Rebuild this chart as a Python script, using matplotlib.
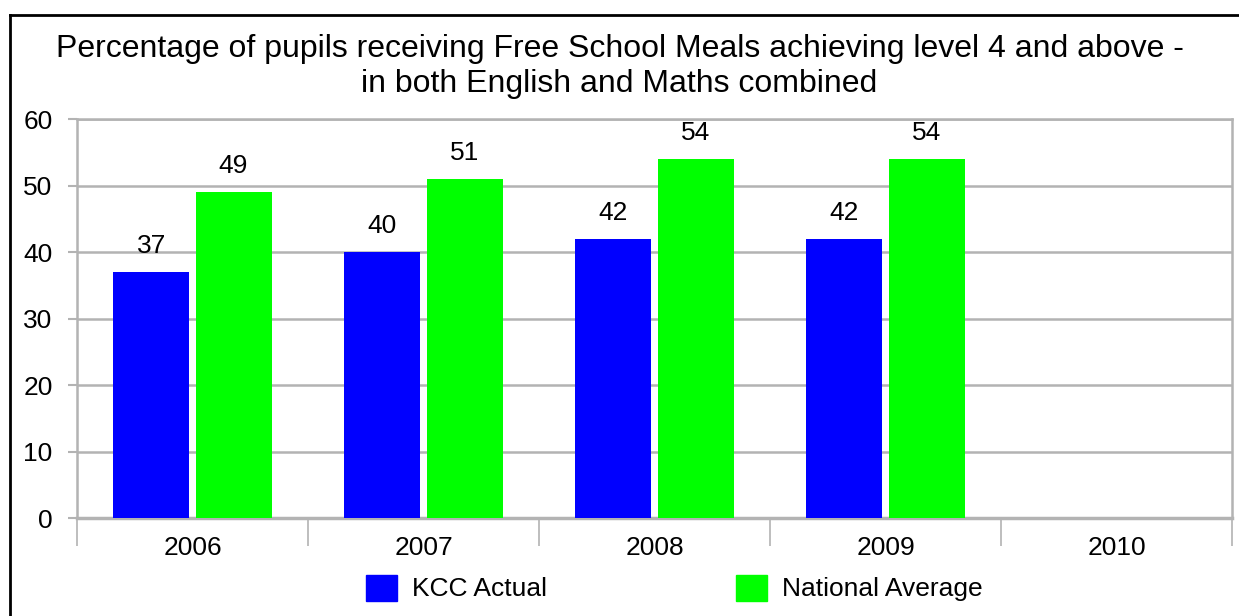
import matplotlib
matplotlib.use("Agg")
import matplotlib.pyplot as plt
import numpy as np
from matplotlib.patches import Patch
from matplotlib.lines import Line2D

categories = ["2006", "2007", "2008", "2009", "2010"]
kcc_actual = [37, 40, 42, 42, None]
national_avg = [49, 51, 54, 54, None]
series_names = ["KCC Actual", "National Average"]
yticks = [0, 10, 20, 30, 40, 50, 60]
title_lines = ["Percentage of pupils receiving Free School Meals achieving level 4 and above -",
               "in both English and Maths combined"]

plt.rcParams['font.family'] = ['Liberation Sans', 'DejaVu Sans']

fig = plt.figure(figsize=(12.39, 6.16), dpi=100)
ax = fig.add_axes([77/1239, 1-518/616, (1232-77)/1239, (518-119)/616])

grid_c = '#b3b3b3'
x = np.arange(len(categories))
w = 0.329
off = 0.1775
colors = ['#0000ff', '#00ff00']
for vals, sign, col in [(kcc_actual, -1, colors[0]), (national_avg, 1, colors[1])]:
    for xi, v in zip(x, vals):
        if v is None:
            continue
        ax.bar(xi + sign*off, v, width=w, color=col, zorder=3)
        ax.annotate(f"{v}", (xi + sign*off, v), xytext=(0, 10), textcoords='offset points',
                    ha='center', va='bottom', fontsize=19, zorder=4)

ax.set_xlim(-0.5, len(categories) - 0.5)
ax.set_ylim(0, 60)
ax.set_yticks(yticks)
ax.set_yticklabels([str(t) for t in yticks], fontsize=19)
ax.yaxis.grid(True, color=grid_c, linewidth=1.8, zorder=1)
ax.set_axisbelow(True)
ax.tick_params(axis='y', length=6.5, color=grid_c, width=1.5, pad=11)

ax.set_xticks(x)
ax.set_xticklabels(categories, fontsize=19)
ax.tick_params(axis='x', which='major', length=0, pad=13)
ax.set_xticks(np.arange(-0.5, len(categories), 1.0), minor=True)
ax.tick_params(axis='x', which='minor', length=20, color=grid_c, width=1.2)

for s in ['left', 'right', 'top']:
    ax.spines[s].set_color(grid_c)
    ax.spines[s].set_linewidth(1.8)
ax.spines['bottom'].set_color(grid_c)
ax.spines['bottom'].set_linewidth(2.5)

for line, base_px in zip(title_lines, [57, 92]):
    fig.text(0.5, 1-base_px/616, line, ha='center', va='baseline', fontsize=23)

handles = [Patch(facecolor=colors[0], edgecolor=colors[0]), Patch(facecolor=colors[1], edgecolor=colors[1])]
fig.legend(handles, series_names, loc='center', bbox_to_anchor=(674.5/1239, 1-588/616), ncol=2,
           frameon=False, fontsize=19, handlelength=1.17, handleheight=1.14,
           handletextpad=0.57, columnspacing=7.16, borderpad=0, borderaxespad=0)

# figure border (top and left visible)
fig.add_artist(Line2D([10/1239, 10/1239], [0, 1-15/616], color='black', linewidth=2, transform=fig.transFigure))
fig.add_artist(Line2D([10/1239, 1], [1-15/616, 1-15/616], color='black', linewidth=2, transform=fig.transFigure))

fig.savefig("out.png", dpi=100)
